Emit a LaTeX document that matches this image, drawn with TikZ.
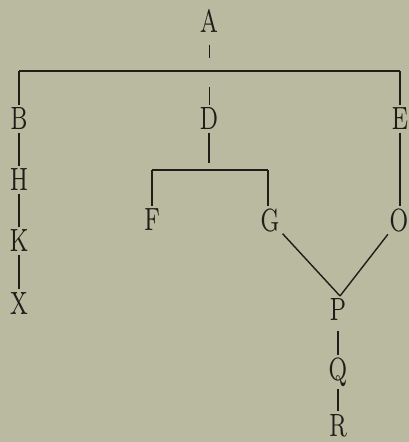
\documentclass[tikz,border=0pt]{standalone}
\usepackage{graphicx}
\definecolor{bg}{RGB}{186,186,160}
\definecolor{ink}{RGB}{30,30,25}
\newcommand\dlet[1]{\scalebox{3.1}[4.6]{#1}}
\begin{document}
\begin{tikzpicture}[x=1pt,y=-1pt,
  letter/.style={inner sep=0pt, outer sep=3pt, text depth=0pt, text=ink, font=\fontsize{7}{7}\selectfont},
  link/.style={line width=1.4pt, draw=ink},
  bar/.style={line width=1.1pt, draw=ink},
  faint/.style={line width=0.8pt, draw=ink}]
\fill[bg] (0,0) rectangle (409,442);
\useasboundingbox (0,0) rectangle (409,442);
% letters
\node[letter] (A) at (209,21) {\dlet{A}};
\node[letter] (B) at (19,119) {\dlet{B}};
\node[letter] (D) at (209,119) {\dlet{D}};
\node[letter] (E) at (400,119) {\dlet{E}};
\node[letter] (H) at (19,180) {\dlet{H}};
\node[letter] (K) at (19,241) {\dlet{K}};
\node[letter] (X) at (19,303) {\dlet{X}};
\node[letter] (F) at (152,220) {\dlet{F}};
\node[letter] (G) at (270,220) {\dlet{G}};
\node[letter] (O) at (399,220) {\dlet{O}};
\node[letter] (P) at (338,309) {\dlet{P}};
\node[letter] (Q) at (338,369) {\dlet{Q}};
\node[letter] (R) at (338,425) {\dlet{R}};
% junction coordinates
\coordinate (jA) at (209,58);
\coordinate (jB) at (19,71);
\coordinate (jE) at (400,71);
\coordinate (jD) at (209,87);
\coordinate (jDb) at (209,163);
\coordinate (jF) at (152,170);
\coordinate (jG) at (268,170);
\coordinate (jP) at (340,296);
% connectors
\draw[faint, shorten <=10pt] (A) -- (jA);
\draw[bar] (jB) -- (jE);
\draw[link] (jB) -- (B.north -| jB);
\draw[link] (jE) -- (E.north -| jE);
\draw[faint] (jD) -- (D);
\draw[link] (B) -- (H);
\draw[link] (H) -- (K);
\draw[link] (K) -- (X);
\draw[link] (D) -- (jDb);
\draw[bar] (jF) -- (jG);
\draw[link] (jF) -- (F.north -| jF);
\draw[link] (jG) -- (G.north -| jG);
\draw[link] (E.south -| jE) -- (O.north -| jE);
\draw[link] (G) -- (jP);
\draw[link] (O) -- (jP);
\draw[link, shorten <=8pt] (P) -- (Q);
\draw[link, shorten <=6pt] (Q) -- (R);
\end{tikzpicture}
\end{document}
